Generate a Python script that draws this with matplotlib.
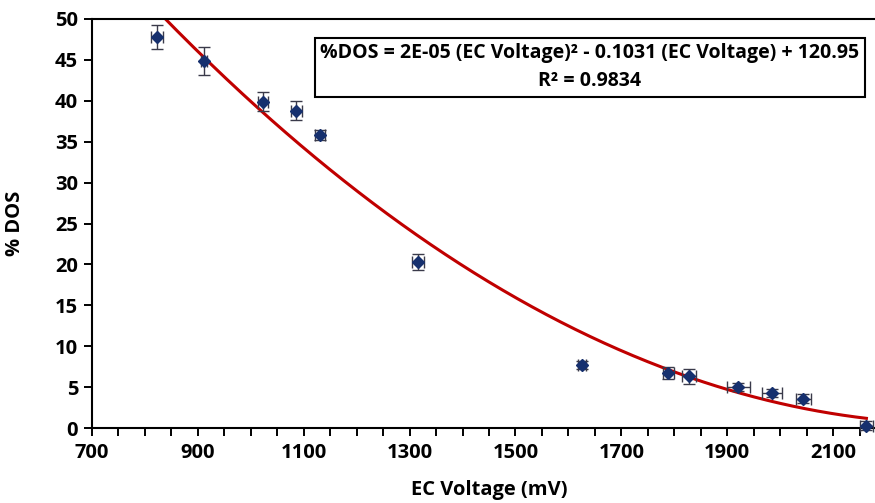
import numpy as np
import matplotlib
matplotlib.use("Agg")
import matplotlib.pyplot as plt

# Data
ec_voltage = [823, 912, 1023, 1086, 1131, 1316, 1626, 1789, 1828, 1921, 1985, 2044, 2163]
dos_pct    = [47.8, 44.9, 39.9, 38.8, 35.8, 20.3, 7.7, 6.7, 6.3, 5.0, 4.3, 3.6, 0.3]
dos_err    = [1.5, 1.7, 1.15, 1.2, 0.6, 1.0, 0.5, 0.7, 0.9, 0.5, 0.5, 0.5, 0.5]
volt_err   = [12, 6, 9, 11, 10, 12, 8, 11, 13, 22, 19, 14, 13]

# Trendline coefficients (quadratic)
trend_a, trend_b, trend_c = 2.2066e-5, -0.1031, 120.95

x_ticks = [700, 900, 1100, 1300, 1500, 1700, 1900, 2100]
y_ticks = [0, 5, 10, 15, 20, 25, 30, 35, 40, 45, 50]

plt.rcParams['font.family'] = ['Open Sans', 'DejaVu Sans']
plt.rcParams['font.weight'] = 'bold'

fig = plt.figure(figsize=(8.75, 5.03), dpi=100)
ax = fig.add_axes([92/875, 75/503, (886-92)/875, (428-19)/503])

xs = np.linspace(800, max(ec_voltage), 400)
ax.plot(xs, trend_a*xs**2 + trend_b*xs + trend_c, color='#C00000', lw=2.2, zorder=2)

ax.errorbar(ec_voltage, dos_pct, yerr=dos_err, xerr=volt_err, fmt='D',
            color='#16306E', ms=6, ecolor='#3a3a4a', elinewidth=1.0,
            capsize=4, capthick=1.0, zorder=3, clip_on=False)

ax.set_xlim(700, 2200)
ax.set_ylim(0, 50)
ax.set_xticks(x_ticks)
ax.set_xticks(np.arange(700, 2201, 50), minor=True)
ax.set_yticks(y_ticks)
ax.tick_params(axis='both', which='both', direction='out', length=6, width=1.4,
               labelsize=14.5, colors='black')
ax.tick_params(axis='x', pad=5)
ax.tick_params(axis='y', pad=4)
for lab in ax.get_xticklabels() + ax.get_yticklabels():
    lab.set_fontweight('bold')

for s in ['left', 'bottom', 'top']:
    ax.spines[s].set_linewidth(1.5)
ax.spines['right'].set_visible(False)

ax.set_xlabel('EC Voltage (mV)', fontsize=14.5, fontweight='bold')
ax.set_ylabel('% DOS', fontsize=14.5, fontweight='bold')
ax.xaxis.set_label_coords(0.5, -0.128)
ax.yaxis.set_label_coords(-0.085, 0.5)

ax.text(0.627, 0.882,
        '%DOS = 2E-05 (EC Voltage)² - 0.1031 (EC Voltage) + 120.95\nR² = 0.9834',
        transform=ax.transAxes, ha='center', va='center', fontsize=14, fontweight='bold',
        linespacing=1.55,
        bbox=dict(boxstyle='square,pad=0.28', facecolor='white', edgecolor='black', lw=1.5))

fig.savefig('out.png', dpi=100)
